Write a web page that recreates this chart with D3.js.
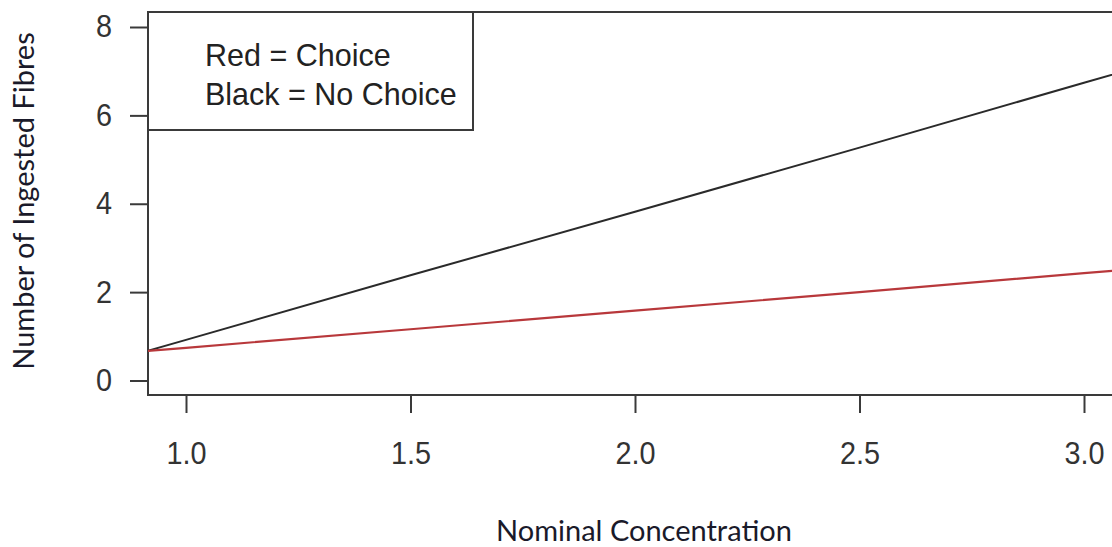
<!DOCTYPE html>
<html>
<head>
<meta charset="utf-8">
<script src="https://cdn.jsdelivr.net/npm/d3@7"></script>
<style>
  body { margin: 0; background: #fff; }
  svg { display: block; }
</style>
</head>
<body>
<svg id="chart"></svg>
<script>
// fitted values
const concentration = [0.9, 1.0, 1.5, 2.0, 2.5, 3.0, 3.1];
const noChoice = [0.63, 0.92, 2.38, 3.82, 5.27, 6.74, 7.03];
const choice = [0.66, 0.74, 1.16, 1.58, 2.00, 2.43, 2.51];
const xTicks = [1.0, 1.5, 2.0, 2.5, 3.0];
const yTicks = [0, 2, 4, 6, 8];
const legendLines = ['Red = Choice', 'Black = No Choice'];

const width = 1112, height = 547;
const plot = { left: 148, top: 12, right: 1140, bottom: 395 };

const svg = d3.select('#chart')
  .attr('width', width)
  .attr('height', height);

const x = d3.scaleLinear().domain([1, 3]).range([186, 1084]);
const y = d3.scaleLinear().domain([0, 8]).range([380.5, 27]);

const axisColor = '#3a3a3a';
const tickFont = '"Liberation Sans", Arial, sans-serif';

// the original glyphs look a bit squeezed sideways
function condense(sel, k) {
  sel.each(function() {
    const w = this.getComputedTextLength();
    d3.select(this).attr('textLength', w * k).attr('lengthAdjust', 'spacingAndGlyphs');
  });
}

// clip to the plotting region
svg.append('clipPath').attr('id', 'clip')
  .append('rect')
  .attr('x', plot.left).attr('y', plot.top)
  .attr('width', plot.right - plot.left).attr('height', plot.bottom - plot.top);

// y axis
const yAxis = svg.append('g')
  .attr('transform', `translate(${plot.left},0)`)
  .call(d3.axisLeft(y).tickValues(yTicks).tickSize(18).tickPadding(18).tickFormat(d3.format('d')));
yAxis.select('.domain').remove();
yAxis.selectAll('line').attr('stroke', axisColor).attr('stroke-width', 2);
yAxis.selectAll('text')
  .attr('fill', '#333')
  .style('font-family', tickFont)
  .style('font-size', '31px')
  .call(condense, 0.93);

// x axis
const xAxis = svg.append('g')
  .attr('transform', `translate(0,${plot.bottom})`)
  .call(d3.axisBottom(x).tickValues(xTicks).tickSize(18).tickPadding(28).tickFormat(d3.format('.1f')));
xAxis.select('.domain').remove();
xAxis.selectAll('line').attr('stroke', axisColor).attr('stroke-width', 2);
xAxis.selectAll('text')
  .attr('fill', '#333')
  .style('font-family', tickFont)
  .style('font-size', '32px')
  .call(condense, 0.9);

// plot frame (right side runs off the image)
svg.append('path')
  .attr('d', `M${plot.right},${plot.top}H${plot.left}V${plot.bottom}H${plot.right}`)
  .attr('fill', 'none')
  .attr('stroke', axisColor)
  .attr('stroke-width', 2);

// lines
const line = vals => d3.line()
  .x((d, i) => x(concentration[i]))
  .y(d => y(d))(vals);

const lines = svg.append('g').attr('clip-path', 'url(#clip)');
lines.append('path')
  .attr('d', line(noChoice))
  .attr('fill', 'none')
  .attr('stroke', '#2a2a2a')
  .attr('stroke-width', 2);
lines.append('path')
  .attr('d', line(choice))
  .attr('fill', 'none')
  .attr('stroke', '#b8383b')
  .attr('stroke-width', 2.2);

// legend box
svg.append('rect')
  .attr('x', plot.left).attr('y', plot.top)
  .attr('width', 325).attr('height', 118)
  .attr('fill', '#fff')
  .attr('stroke', axisColor)
  .attr('stroke-width', 2);

svg.append('g').selectAll('text')
  .data(legendLines)
  .enter()
  .append('text')
  .attr('x', 205)
  .attr('y', (d, i) => 66 + i * 39)
  .attr('fill', '#222')
  .style('font-family', tickFont)
  .style('font-size', '30.5px')
  .text(d => d);

// axis titles
svg.append('text')
  .attr('x', 644)
  .attr('y', 541)
  .attr('text-anchor', 'middle')
  .attr('fill', '#1a1a2a')
  .style('font-family', 'Lato, "Open Sans", sans-serif')
  .style('font-size', '29px')
  .text('Nominal Concentration');

svg.append('text')
  .attr('transform', 'translate(34,201) rotate(-90)')
  .attr('text-anchor', 'middle')
  .attr('fill', '#1a1a2a')
  .style('font-family', 'Lato, "Open Sans", sans-serif')
  .style('font-size', '29px')
  .text('Number of Ingested Fibres');
</script>
</body>
</html>
